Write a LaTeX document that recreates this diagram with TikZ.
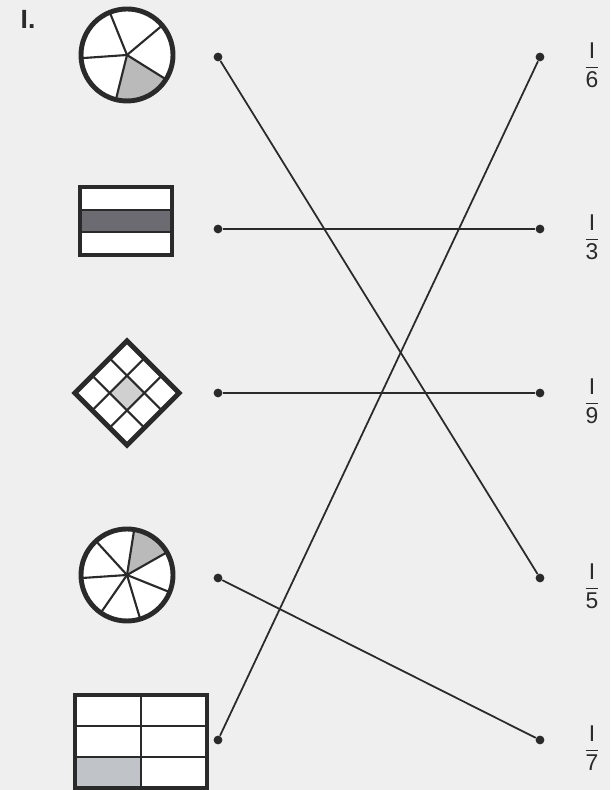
\documentclass[tikz,border=0pt]{standalone}
\usepackage{amsmath}
\usepackage{fontspec}
\setmainfont{Liberation Sans}
\usepackage{tikz}
\usetikzlibrary{calc}
\definecolor{pagegray}{HTML}{EFEFEF}
\definecolor{inkdark}{HTML}{2A2A2A}
\definecolor{shadegray}{HTML}{BABABA}
\definecolor{stripgray}{HTML}{6B6B71}
\definecolor{lightshade}{HTML}{D0D0D0}
\definecolor{cellgray}{HTML}{C0C3C7}

\begin{document}
\begin{tikzpicture}[x=0.02cm,y=0.02cm,
    outline/.style={draw=inkdark,line width=2.8pt},
    divider/.style={draw=inkdark,line width=1.2pt},
    endpoint/.style={circle,fill=inkdark,inner sep=0pt,minimum size=5pt},
    link/.style={draw=inkdark,line width=1pt},
    fraclabel/.style={font=\fontsize{13}{15}\selectfont,text=inkdark}]
  % page (610 x 790 px)
  \fill[pagegray](0,0) rectangle (610,790);
  \useasboundingbox (0,0) rectangle (610,790);

  \node[font=\fontsize{15}{17}\selectfont\bfseries,text=inkdark] (num) at (28,771) {I.};

  % shape 1: circle in five parts, one shaded
  \fill[white](127,735) circle (46);
  \fill[shadegray](127,735) -- ++(-32:46) arc[start angle=-32,end angle=-104,radius=46] -- cycle;
  \foreach \a in {112,40,-32,-104,-176}
    \draw[divider](127,735) -- ++(\a:46);
  \draw[outline](127,735) circle (46);

  % shape 2: three strips, middle one dark
  \fill[white](80,535) rectangle (172,603);
  \fill[stripgray](80,557.7) rectangle (172,580.3);
  \draw[divider](80,557.7)--(172,557.7) (80,580.3)--(172,580.3);
  \draw[outline](80,535) rectangle (172,603);

  % shape 3: 3x3 diamond, centre cell shaded
  \begin{scope}[shift={(127,397)},rotate=45]
    \fill[white](-36.8,-36.8) rectangle (36.8,36.8);
    \fill[lightshade](-12.27,-12.27) rectangle (12.27,12.27);
    \foreach \t in {-12.27,12.27}{
      \draw[divider](\t,-36.8)--(\t,36.8);
      \draw[divider](-36.8,\t)--(36.8,\t);
    }
    \draw[outline](-36.8,-36.8) rectangle (36.8,36.8);
  \end{scope}

  % shape 4: circle in seven parts, one shaded
  \fill[white](127,215) circle (46);
  \fill[shadegray](127,215) -- ++(81:46) arc[start angle=81,end angle=29.57,radius=46] -- cycle;
  \foreach \k in {0,...,6}
    \draw[divider](127,215) -- ++({81-51.43*\k}:46);
  \draw[outline](127,215) circle (46);

  % shape 5: 2x3 grid, bottom-left cell shaded
  \fill[white](75,2) rectangle (207,95);
  \fill[cellgray](75,2) rectangle (141,33);
  \draw[divider](141,2)--(141,95) (75,33)--(207,33) (75,64)--(207,64);
  \draw[outline](75,2) rectangle (207,95);

  % end points
  \foreach \i/\y in {1/733,2/561,3/397,4/212,5/50}{
    \node[endpoint] (l\i) at (218,\y) {};
    \node[endpoint] (r\i) at (540,\y) {};
  }

  % fractions on the right
  \foreach \i/\d in {1/6,2/3,3/9,4/5,5/7}
    \node[fraclabel] (f\i) at ($(r\i)+(52,-8)$) {$\dfrac{\text{I}}{\text{\d}}$};

  % matching lines
  \draw[link](l1)--(r4);
  \draw[link](l2)--(r2);
  \draw[link](l3)--(r3);
  \draw[link](l4)--(r5);
  \draw[link](l5)--(r1);
\end{tikzpicture}
\end{document}
